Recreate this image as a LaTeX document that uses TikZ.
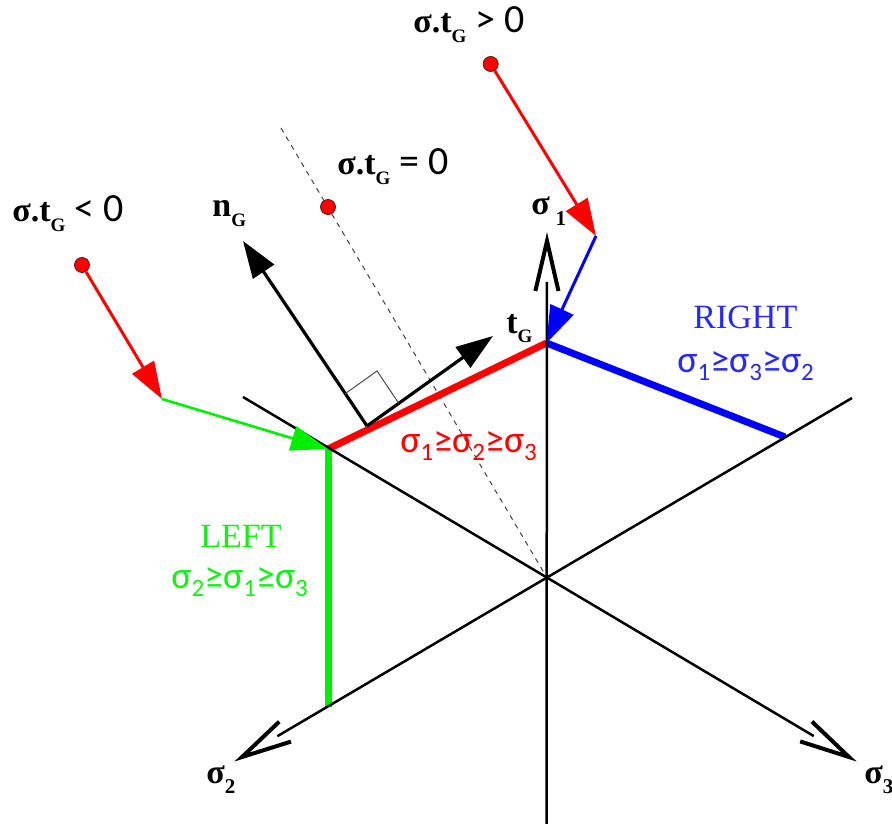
\documentclass[tikz,border=0pt]{standalone}
\usepackage{fontspec}
\setmainfont{Liberation Serif}
\newfontfamily\calib{Carlito}
\usetikzlibrary{arrows.meta,calc}
\definecolor{cred}{RGB}{255,0,0}
\definecolor{cgreen}{RGB}{0,238,0}
\definecolor{cblue}{RGB}{0,0,255}
\definecolor{tblue}{RGB}{40,40,255}
\definecolor{tgreen}{RGB}{20,240,20}
\definecolor{dotline}{RGB}{90,20,20}
\newcommand{\mysub}[3][0.55ex]{\raisebox{-#1}{\fontsize{#2}{#2}\selectfont #3}}
\newcommand{\sigtg}{{\bfseries σ.t\mysub[0.6ex]{9.5}{G}}}
\newcommand{\rel}[1]{{\calib\fontsize{20}{20}\selectfont\ #1}}
\newcommand{\ineq}[3]{{\calib σ\mysub[0.45ex]{12.5}{#1}≥σ\mysub[0.45ex]{12.5}{#2}≥σ\mysub[0.45ex]{12.5}{#3}}}
\begin{document}
\begin{tikzpicture}[x=0.5pt,y=-0.5pt,
  lbl/.style={inner sep=0pt, anchor=base west},
  boldlbl/.style={lbl, font=\fontsize{17}{17}\selectfont},
  collbl/.style={lbl, font=\fontsize{17}{17}\selectfont},
  ineqlbl/.style={lbl, font=\fontsize{19}{19}\selectfont},
  axisline/.style={line width=1.25pt, black},
  vtip/.style={line width=2pt, black, line join=miter},
  thickseg/.style={line width=3.5pt},
  dot/.style={circle, fill=cred, draw=dotline, line width=0.4pt, minimum size=7.5pt, inner sep=0pt},
  farrow/.style={line width=1.5pt, -{Triangle[length=18.5pt,width=12.5pt]}},
  dashedline/.style={dashed, dash pattern=on 2.5pt off 2.5pt, line width=0.5pt, black!75},
  rightmark/.style={line width=0.5pt, black!70}
]
\useasboundingbox (0,0) rectangle (892,823);

% key points
\coordinate (O) at (546.5,577);
\coordinate (A) at (546.5,343);
\coordinate (B) at (328,449);
\coordinate (C) at (328,707);
\coordinate (D) at (785,437);
\coordinate (S1tip) at (547,241);
\coordinate (S1bot) at (546.5,830);
\coordinate (S2tip) at (242,757);
\coordinate (S2top) at (852,398);
\coordinate (S3tip) at (849,757);
\coordinate (S3top) at (243,397);
\coordinate (Dtop) at (281,128);
\coordinate (Q1) at (596,236);
\coordinate (Q3) at (162,399);
\coordinate (P) at (367,426);
\coordinate (NG) at (243,241);
\coordinate (TG) at (493,336);

% dashed line sigma.tG = 0
\draw[dashedline] (Dtop) -- (O);

% yield surface segments
\draw[thickseg, cred] (B) -- (A);
\draw[thickseg, cblue] (A) -- (D);
\draw[thickseg, cgreen] (B) -- (C);

% axes
\draw[axisline] (S1bot) -- ($(S1tip)!20.5pt!(O)$);
\draw[vtip] ($(S1tip)!25.65pt!13:(O)$) -- (S1tip) -- ($(S1tip)!25.65pt!-13:(O)$);
\draw[axisline] (S2top) -- ($(S2tip)!20.5pt!(S2top)$);
\draw[vtip] ($(S2tip)!25.65pt!13:(S2top)$) -- (S2tip) -- ($(S2tip)!25.65pt!-13:(S2top)$);
\draw[axisline] (S3top) -- ($(S3tip)!20.5pt!(S3top)$);
\draw[vtip] ($(S3tip)!25.65pt!13:(S3top)$) -- (S3tip) -- ($(S3tip)!25.65pt!-13:(S3top)$);

% normal and tangent vectors
\draw[farrow, black, line width=1.6pt] (P) -- (NG);
\draw[farrow, black, line width=1.6pt] (P) -- (TG);
\coordinate (m1) at ($(P)!0.175!(NG)$);
\coordinate (m2) at ($(P)!0.252!(TG)$);
\draw[rightmark] (m1) -- ($(m1)+(m2)-(P)$) -- (m2);

% stress points and return paths
\node[dot] (p1) at (490.7,64) {};
\node[dot] (p2) at (328,207) {};
\node[dot] (p3) at (82,265) {};
\draw[farrow, cred] (p1) -- (Q1);
\draw[farrow, cblue] (Q1) -- (A);
\draw[farrow, cred] (p3) -- (Q3);
\draw[farrow, cgreen, line width=1.3pt] (Q3) -- (B);

% labels
\node[boldlbl] (l1) at (413,33) {\sigtg\rel{> 0}};
\node[boldlbl] (l2) at (337,175) {\sigtg\rel{= 0}};
\node[boldlbl] (l3) at (12,222) {\sigtg\rel{< 0}};
\node[boldlbl] (ln) at (212,217) {\bfseries n\mysub[0.6ex]{9.5}{G}};
\node[boldlbl] (lt) at (506,333) {\bfseries t\mysub[0.6ex]{9.5}{G}};
\node[boldlbl] (s1) at (531,215) {\bfseries σ\,\mysub[0.7ex]{10.5}{1}};
\node[boldlbl] (s2) at (206,783) {\bfseries σ\mysub[0.7ex]{10.5}{2}};
\node[boldlbl] (s3) at (864,783) {\bfseries σ\mysub[0.7ex]{10.5}{3}};

\node[collbl, text=tblue] (right) at (693,328) {RIGHT};
\node[ineqlbl, text=tblue] (rineq) at (677,372) {\ineq{1}{3}{2}};
\node[ineqlbl, text=cred] (mineq) at (400,452) {\ineq{1}{2}{3}};
\node[collbl, text=tgreen] (left) at (200,547) {LEFT};
\node[ineqlbl, text=tgreen] (lineq) at (171,588) {\ineq{2}{1}{3}};
\end{tikzpicture}
\end{document}
